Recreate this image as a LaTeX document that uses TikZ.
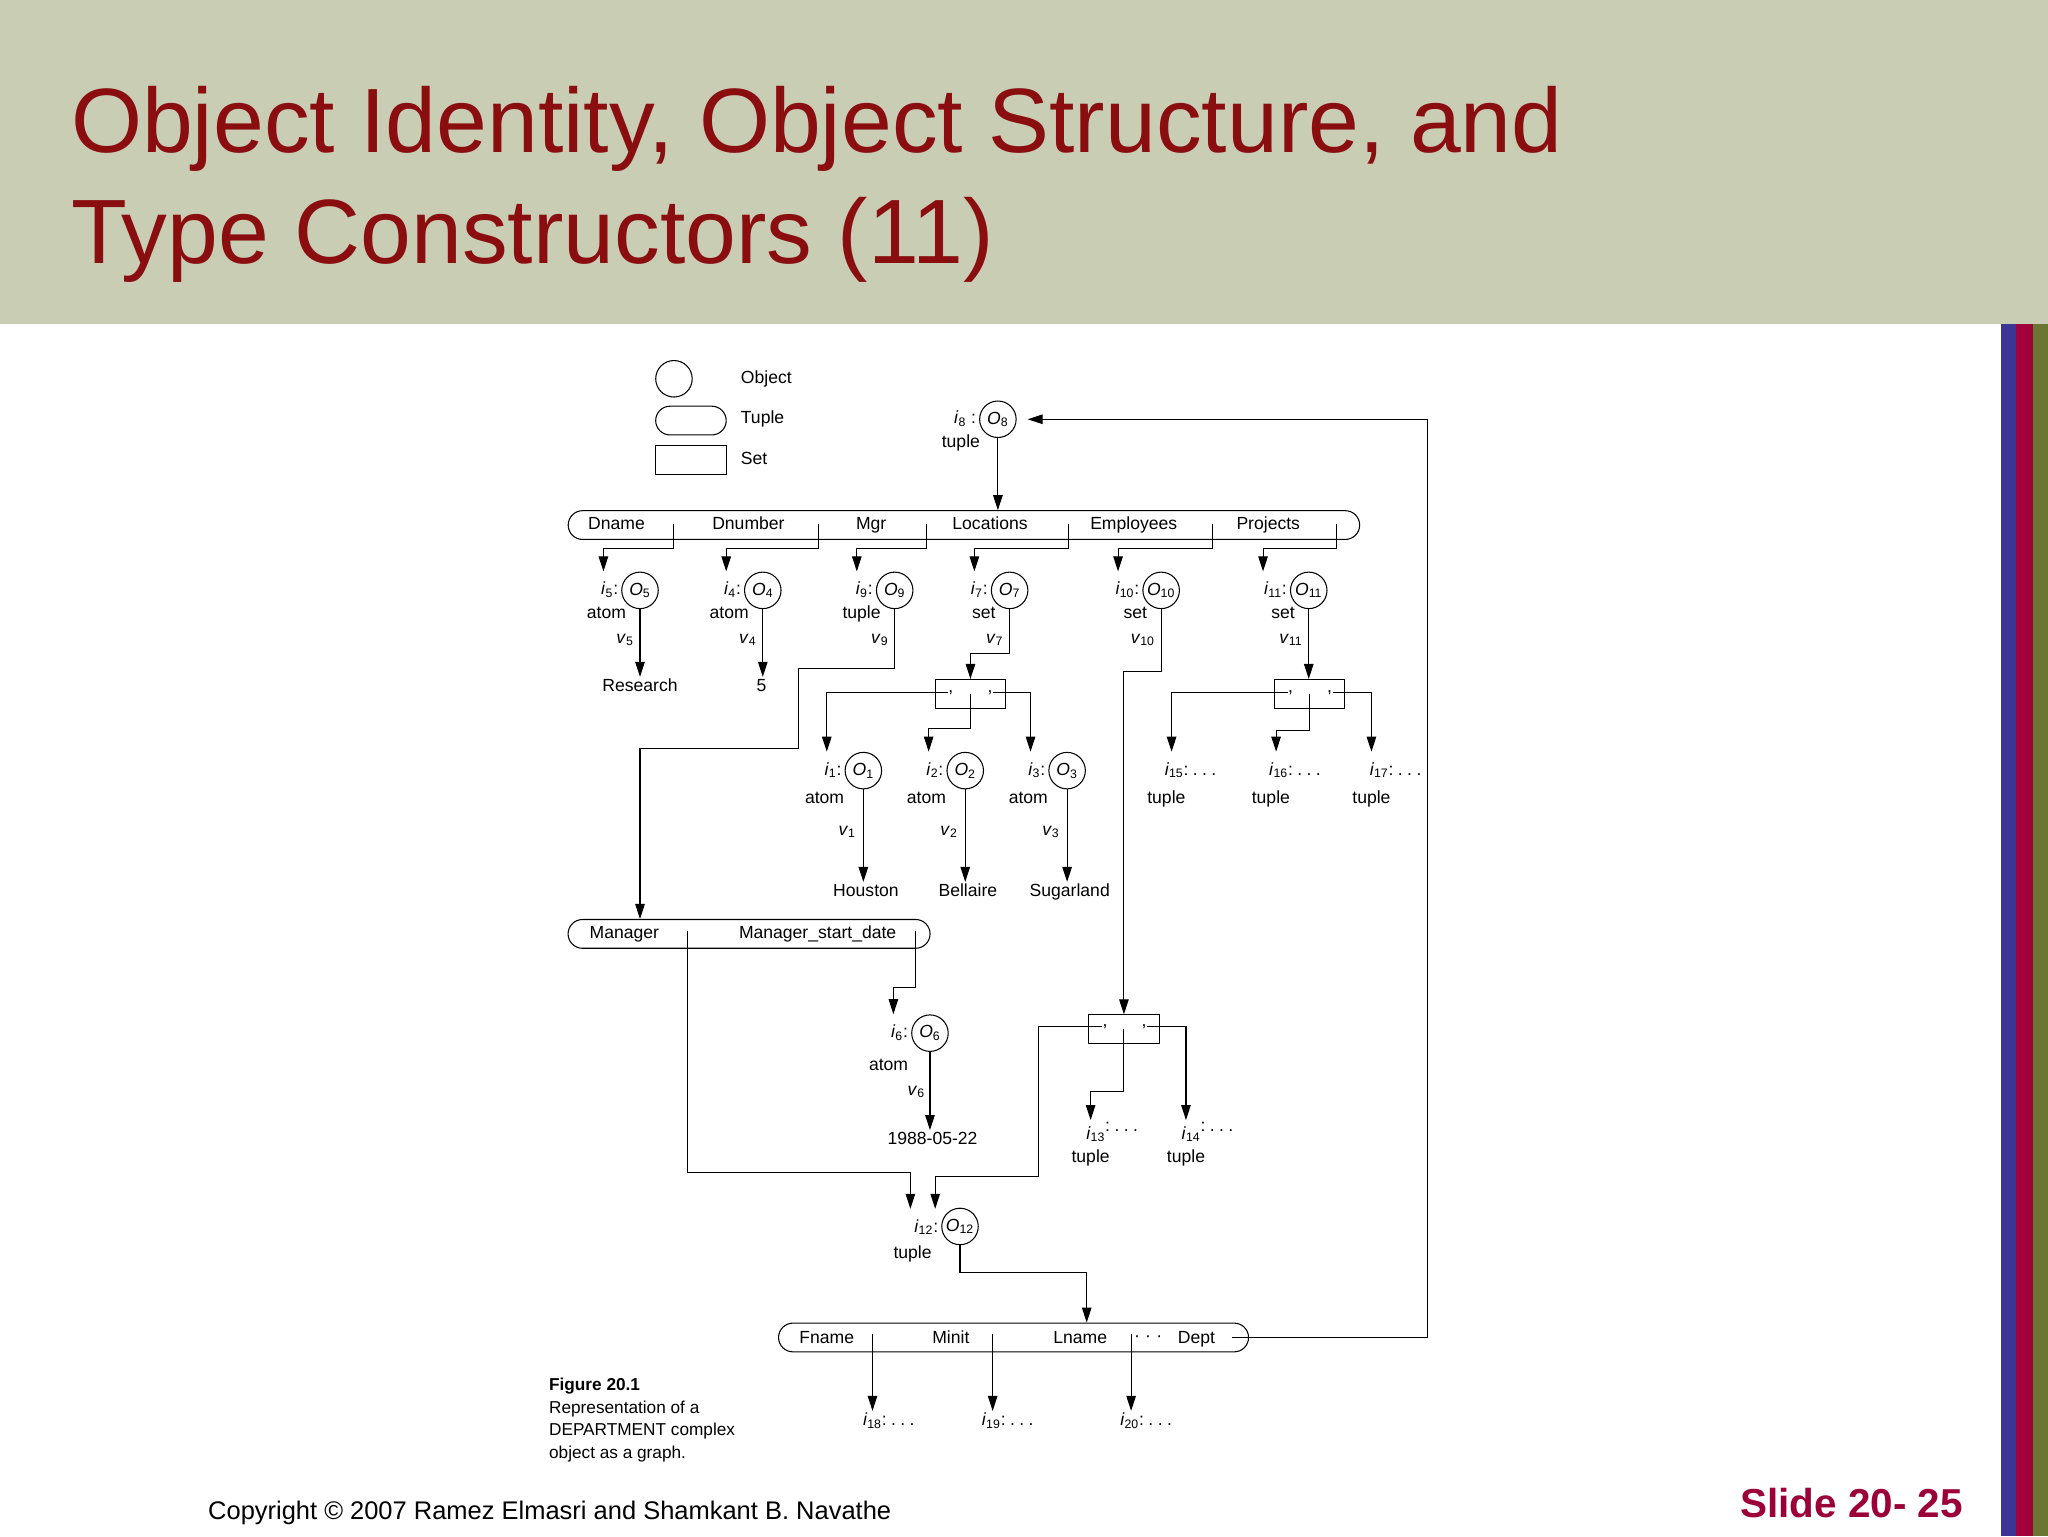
\documentclass[tikz,border=0pt]{standalone}
\usepackage{fontspec}
\setmainfont{Liberation Sans}
\usetikzlibrary{shapes.misc,arrows.meta,positioning}
\definecolor{bandgray}{HTML}{C8CDB3}
\definecolor{titlered}{HTML}{8A0E10}
\definecolor{slidered}{HTML}{9C0038}
\definecolor{barblue}{HTML}{3B3696}
\definecolor{barred}{HTML}{A0003B}
\definecolor{bargreen}{HTML}{6A7632}
\newcommand{\dfont}{\fontsize{10}{12}\selectfont}
\newcommand{\iname}[1]{\textit{i}\textsubscript{#1}}
\newcommand{\oname}[1]{\textit{O}\textsubscript{#1}}
\newcommand{\vname}[1]{\textit{v}\textsubscript{#1}}
\newcommand{\colondots}{:\hspace{0.25em}.\hspace{0.25em}.\hspace{0.25em}.}
\tikzset{
  txt/.style={inner sep=1pt,text height=7pt,text depth=2pt,font=\dfont},
  objc/.style={draw,circle,minimum size=0.73cm,inner sep=0pt,font=\dfont},
  tuplebox/.style={draw,rounded rectangle,minimum height=0.575cm,inner sep=0pt},
  setbox/.style={draw,minimum width=1.41cm,minimum height=0.59cm,inner sep=0pt},
  sep/.style={inner sep=0pt,font=\dfont,anchor=base},
  titletxt/.style={anchor=base west,inner sep=0pt,text=titlered,font=\fontsize{52}{60}\selectfont},
  arr/.style={-{Triangle[length=0.3cm,width=0.19cm]}},
  toid/.style={arr,shorten >=5pt},
}
\begin{document}
\begin{tikzpicture}[x=0.026122cm,y=-0.026122cm,line width=0.6pt]
    \useasboundingbox (0,0) rectangle (1568,1176);
    \fill[bandgray] (0,0) rectangle (1568,248);
    \fill[barblue] (1532,248) rectangle (1543.6,1176);
    \fill[barred] (1543.6,248) rectangle (1556.6,1176);
    \fill[bargreen] (1556.6,248) rectangle (1568,1176);
    \node[titletxt] (title1) at (54,117) {Object Identity, Object Structure, and};
    \node[titletxt] (title2) at (54,202) {Type Constructors (11)};

    \node[objc] (lgobj) at (516,290) {};
    \node[tuplebox,minimum width=1.41cm] (lgtup) at (529,322) {};
    \node[setbox,minimum height=0.575cm] (lgset) at (529,352) {};
    \node[txt,anchor=west] (lgobjt) at (565.5,290) {Object};
    \node[txt,anchor=west] (lgtupt) at (565.5,321) {Tuple};
    \node[txt,anchor=west] (lgsett) at (565.5,352) {Set};

    \node[objc] (o8) at (764,321) {\oname{8}};
    \node[txt,anchor=east] (l8) at (749,321) {\iname{8} :};
    \node[txt,anchor=east] (k8) at (752,339) {tuple};

    \node[tuplebox,minimum width=15.83cm] (deptT) at (738,402) {};
    \foreach \fx/\fn in {472/Dname,573/Dnumber,667/Mgr,758/Locations,868/Employees,971/Projects}
        \node[txt] (f\fn) at (\fx,402) {\fn};
    \draw[arr] (o8.south) -- (o8.south |- deptT.north);

    \foreach \n/\x/\k in {5/490/atom,4/584/atom,9/685/tuple,7/773/set,10/889/set,11/1002/set} {
        \node[objc] (o\n) at (\x,452) {\oname{\n}};
        \node[txt,anchor=east] (l\n) at (\x-15,452) {\iname{\n}:};
        \node[txt,anchor=east] (k\n) at (\x-9,470) {\k};
        \node[txt,anchor=east] (v\n) at (\x-3,489) {\vname{\n}};
    }
    \node[txt] (r5) at (490,526) {Research};
    \node[txt] (r4) at (583,526) {5};

    \foreach \tx/\n/\ax in {516/5/462,627/4/556,709/9/656,818/7/746,928/10/856,1023/11/967} {
        \coordinate (t\n) at (\tx,401);
        \draw[toid] (t\n) -- (\tx,420) -| (l\n.north -| \ax,0);
    }
    \draw[arr] (o5.south) -- (o5.south |- r5.north);
    \draw[arr] (o4.south) -- (o4.south |- r4.north);

    \node[setbox] (set1) at (743,531.5) {};
    \node[sep] (c1a) at (728,530) {,};
    \node[sep] (c1b) at (758,530) {,};
    \node[setbox] (set2) at (1002.5,531.5) {};
    \node[sep] (c2a) at (988,530) {,};
    \node[sep] (c2b) at (1018,530) {,};
    \draw[arr] (o7.south) -- (o7.south |- 0,500) -| (set1.north);
    \draw[arr] (o11.south) -- (o11.south |- set2.north);

    \foreach \n/\x/\p in {1/661/Houston,2/739/Bellaire,3/817/Sugarland} {
        \node[objc] (o\n) at (\x,590) {\oname{\n}};
        \node[txt,anchor=east] (l\n) at (\x-15,590) {\iname{\n}:};
        \node[txt,anchor=east] (k\n) at (\x-13,612) {atom};
        \node[txt,anchor=east] (v\n) at (\x-4,636) {\vname{\n}};
        \node[txt] (p\n) at (\x+2,683) {\p};
        \draw[arr] (o\n.south) -- (o\n.south |- p\n.north);
    }
    \draw[toid] (c1a.west) -| (l1.north -| 633,0);
    \draw[toid] (set1.center) -- (set1.center |- 0,558) -| (l2.north -| 711,0);
    \draw[toid] (c1b.east) -| (l3.north -| 789,0);

    \foreach \n/\x in {15/890,16/970,17/1047} {
        \node[txt,anchor=west] (l\n) at (\x,590) {\iname{\n}\colondots};
        \node[txt] (k\n) at (\x+3,612) {tuple};
    }
    \draw[toid] (c2a.west) -| (l15.north -| 897,0);
    \draw[toid] (set2.center) -- (set2.center |- 0,559) -| (l16.north -| 977,0);
    \draw[toid] (c2b.east) -| (l17.north -| 1050,0);

    \node[tuplebox,minimum width=7.24cm] (mgrT) at (573.5,715) {};
    \node[txt] (fManager) at (478,715) {Manager};
    \node[txt] (fMgrDate) at (626,715) {Manager\_start\_date};
    \coordinate (m1) at (526,713);
    \coordinate (m2) at (701,713);
    \draw[arr] (o9.south) |- (611,512) |- (490,573) -- (490,573 |- mgrT.north);

    \node[objc] (o6) at (712,791) {\oname{6}};
    \node[txt,anchor=east] (l6) at (697,791) {\iname{6}:};
    \node[txt,anchor=east] (k6) at (697,816) {atom};
    \node[txt,anchor=east] (v6) at (710,835) {\vname{6}};
    \node[txt] (d6) at (714,873) {1988-05-22};
    \draw[toid] (m2) -- (701,756) -| (l6.north -| 684,0);
    \draw[arr] (o6.south) -- (o6.south |- d6.north);

    \node[setbox,minimum height=0.575cm] (set3) at (860.5,788) {};
    \node[sep] (c3a) at (846,786) {,};
    \node[sep] (c3b) at (876,786) {,};
    \draw[arr] (o10.south) -- (o10.south |- 0,514) -| (set3.north);
    \node[txt,anchor=base west] (l13) at (830,866) {\raisebox{-4.5pt}{\iname{13}}\colondots};
    \node[txt,anchor=base west] (l14) at (903,866) {\raisebox{-4.5pt}{\iname{14}}\colondots};
    \node[txt] (k13) at (835,887) {tuple};
    \node[txt] (k14) at (908,887) {tuple};
    \draw[arr,shorten >=-2pt] (set3.center) -- (set3.center |- 0,836) -| (l13.north -| 835,0);
    \draw[arr,shorten >=-2pt] (c3b.east) -| (l14.north -| 908,0);

    \node[objc] (o12) at (735,939) {\oname{12}};
    \node[txt,anchor=east] (l12) at (720,940) {\iname{12}:};
    \node[txt,anchor=east] (k12) at (715,960) {tuple};
    \draw[toid] (m1) -- (526,898) -| (l12.north -| 697,0);
    \draw[toid] (c3a.west) -| (795,901) -| (l12.north -| 716,0);

    \node[tuplebox,minimum width=9.4cm] (empT) at (776,1024) {};
    \foreach \fx/\fn in {633/Fname,728/Minit,827/Lname,916/Dept}
        \node[txt] (f\fn) at (\fx,1025) {\fn};
    \node[txt] (fdots) at (879,1024) {·\hspace{0.3em}·\hspace{0.3em}·};
    \draw[arr] (o12.south) -- (o12.south |- 0,974) -| (empT.north -| 832,0);
    \foreach \tx/\n/\lx in {668/18/659,760/19/750,866/20/856} {
        \coordinate (e\n) at (\tx,1021);
        \node[txt,anchor=west] (l\n) at (\lx,1088) {\iname{\n}\colondots};
        \draw[arr] (e\n) -- (e\n |- l\n.north);
    }
    \coordinate (dptend) at (943,1024);
    \draw[arr,shorten >=0.22cm] (dptend) -| (o8.east -| 1093,0) -- (o8.east);

    \node[anchor=north west,align=left,inner sep=0pt,font=\fontsize{9.8}{12.8}\selectfont] (caption) at (420,1055)
        {\textbf{Figure 20.1}\\Representation of a\\DEPARTMENT complex\\object as a graph.};
    \node[anchor=base west,inner sep=0pt,font=\fontsize{14.5}{17}\selectfont] (copyright) at (159,1163)
        {Copyright \textcopyright{} 2007 Ramez Elmasri and Shamkant B. Navathe};
    \node[anchor=base west,inner sep=0pt,text=slidered,font=\bfseries\fontsize{23}{27}\selectfont] (slideno) at (1332,1162)
        {Slide 20- 25};
\end{tikzpicture}
\end{document}
